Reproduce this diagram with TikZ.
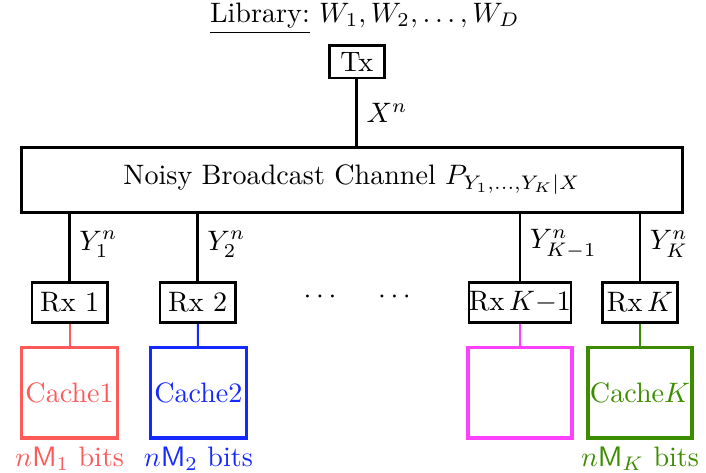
\documentclass[tikz,border=0pt]{standalone}
\usepackage{amsmath}
\usetikzlibrary{positioning}
\definecolor{cacheRed}{RGB}{255,90,90}
\definecolor{cacheBlue}{RGB}{20,40,255}
\definecolor{cacheMag}{RGB}{255,64,255}
\definecolor{cacheGreen}{RGB}{60,140,0}
\begin{document}
\begin{tikzpicture}[
        box/.style={rectangle, draw, line width=1pt, inner sep=1pt, minimum height=0.5cm},
        cache/.style={rectangle, draw, line width=1.1pt, minimum width=1.2cm, minimum height=1.13cm, inner sep=0pt},
        link/.style={line width=1pt},
        clink/.style={line width=0.7pt},
        lbl/.style={right, inner sep=1pt, xshift=2pt}
    ]
        \useasboundingbox (0,0) rectangle (8.825,-5.9125);

        % Library and transmitter
        \node (lib) at (4.56,-0.23) {\underline{Library:}\ $W_1,W_2,\dots,W_D$};
        \node[box, minimum width=0.69cm, minimum height=0.41cm] (tx) at (4.46,-0.77) {Tx};

        % Channel
        \node[box, minimum width=8.26cm, minimum height=0.81cm] (chan) at (4.40,-2.25) {Noisy Broadcast Channel $P_{Y_1,\dots,Y_K|X}$};
        \draw[link] (tx) -- (tx |- chan.north) node[midway, lbl] {$X^n$};

        % Receivers
        \node[box, minimum width=0.94cm] (rx1) at (0.87,-3.78) {Rx 1};
        \node[box, minimum width=0.94cm] (rx2) at (2.47,-3.78) {Rx 2};
        \node[box, minimum width=1.2cm, inner sep=0pt] (rxk1) at (6.50,-3.78) {Rx\,$K{-}1$};
        \node[box, minimum width=0.94cm] (rxk) at (8.00,-3.78) {Rx\,$K$};
        \node (dots1) at (4.03,-3.72) {$\cdots$};
        \node (dots2) at (4.96,-3.72) {$\cdots$};

        \draw[link] (rx1 |- chan.south) -- (rx1) node[pos=0.45, lbl] {$Y_1^n$};
        \draw[link] (rx2 |- chan.south) -- (rx2) node[pos=0.45, lbl] {$Y_2^n$};
        \draw[link] (rxk1 |- chan.south) -- (rxk1) node[pos=0.45, lbl] {$Y_{K-1}^n$};
        \draw[link] (rxk |- chan.south) -- (rxk) node[pos=0.45, lbl] {$Y_K^n$};

        % Caches
        \node[cache, draw=cacheRed, text=cacheRed] (c1) at (0.87,-4.91) {Cache1};
        \node[cache, draw=cacheBlue, text=cacheBlue] (c2) at (2.48,-4.91) {Cache2};
        \node[cache, draw=cacheMag, minimum width=1.3cm] (ck1) at (6.50,-4.91) {};
        \node[cache, draw=cacheGreen, text=cacheGreen, minimum width=1.3cm] (ck) at (8.00,-4.91) {Cache$K$};

        \draw[clink, cacheRed] (rx1) -- (c1);
        \draw[clink, cacheBlue] (rx2) -- (c2);
        \draw[clink, cacheMag] (rxk1) -- (ck1);
        \draw[clink, cacheGreen] (rxk) -- (ck);

        % Cache sizes
        \node[text=cacheRed, below=-1pt of c1] (m1) {$n\mathsf{M}_1$ bits};
        \node[text=cacheBlue, below=-1pt of c2] (m2) {$n\mathsf{M}_2$ bits};
        \node[text=cacheGreen, below=-1pt of ck] (mk) {$n\mathsf{M}_K$ bits};
    \end{tikzpicture}
\end{document}
